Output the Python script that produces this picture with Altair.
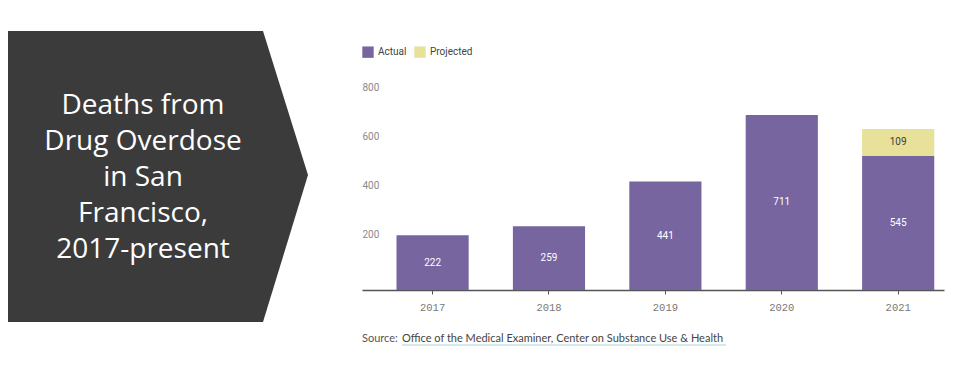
import altair as alt
import pandas as pd

# ---- data ----
years = ["2017", "2018", "2019", "2020", "2021"]
actual = [222, 259, 441, 711, 545]
projected_years = ["2021"]
projected = [109]
series = ["Actual", "Projected"]
series_colors = ["#7765a0", "#e8e199"]
y_ticks = [200, 400, 600, 800]
title_lines = ["Deaths from", "Drug Overdose", "in San", "Francisco,", "2017-present"]
source_label = "Source:"
source_link = "Office of the Medical Examiner, Center on Substance Use & Health"

# decorative arrow shape (relative units)
arrow_x = [0.0, 0.85, 1.0]
arrow_top = [0.0, 0.0, 0.495]
arrow_bottom = [1.0, 1.0, 0.495]

rows = [{"year": y, "type": "Actual", "value": v, "ord": 0} for y, v in zip(years, actual)]
rows += [{"year": y, "type": "Projected", "value": v, "ord": 1} for y, v in zip(projected_years, projected)]
df = pd.DataFrame(rows)

W, H = 582, 197

xscale = alt.Scale(domain=years, paddingInner=0.38, paddingOuter=0.19, align=0.78)
yscale = alt.Scale(domain=[0, 800], nice=False)

x_axis = alt.Axis(title=None, labelAngle=0, grid=False, domainColor="#555555", domainWidth=1.5,
                  tickColor="#555555", tickSize=4, tickWidth=1, labelFont="Liberation Mono",
                  labelFontSize=10.5, labelColor="#777777", labelPadding=8)
y_axis = alt.Axis(title=None, values=y_ticks, domain=False, ticks=False, tickSize=0,
                  labelAlign="left", labelBaseline="alphabetic", labelPadding=0, labelOffset=-3,
                  labelFont="Roboto", labelFontSize=10, labelColor="#8a8a8a",
                  gridColor="#ececec", gridWidth=1)

base = alt.Chart(df).transform_stack(
    stack="value", groupby=["year"], sort=[alt.SortField("ord", order="ascending")], as_=["v0", "v1"]
).transform_calculate(mid="(datum.v0 + datum.v1) / 2")

bars = base.mark_bar().encode(
    x=alt.X("year:N", scale=xscale, axis=x_axis),
    y=alt.Y("v0:Q", scale=yscale, axis=y_axis),
    y2="v1:Q",
    color=alt.Color("type:N", scale=alt.Scale(domain=series, range=series_colors),
                    legend=alt.Legend(title=None, orient="none", legendX=0, legendY=-47,
                                      direction="horizontal", symbolType="square", symbolSize=130,
                                      symbolStrokeWidth=0, labelFont="Roboto", labelFontSize=10,
                                      labelColor="#444444", labelOffset=4, columnPadding=7,
                                      padding=0)),
)

labels = base.mark_text(font="Roboto", fontSize=10, baseline="middle").encode(
    x=alt.X("year:N", scale=xscale, axis=x_axis),
    y=alt.Y("mid:Q", scale=yscale, axis=y_axis),
    text="value:Q",
    color=alt.condition("datum.type == 'Actual'", alt.value("white"), alt.value("#3d3d3d")),
)

bar_layer = alt.layer(bars, labels)

arrow_df = pd.DataFrame({"ax": arrow_x, "top": arrow_top, "bot": arrow_bottom})
arrow = alt.Chart(arrow_df).mark_area(color="#3b3b3b", opacity=1).encode(
    x=alt.X("ax:Q", scale=alt.Scale(domain=[0, 1], range=[-354, -54]), axis=None),
    y=alt.Y("top:Q", scale=alt.Scale(domain=[0, 1], range=[-62, 229]), axis=None),
    y2="bot:Q",
)

title_df = pd.DataFrame({"t": ["\n".join(title_lines)]})
title_text = alt.Chart(title_df).mark_text(
    font="Open Sans", fontSize=28, color="white", lineHeight=36, align="center",
    baseline="middle", lineBreak="\n"
).encode(x=alt.value(-219), y=alt.value(13), text="t:N")

src_df = pd.DataFrame({"label": [source_label], "link": [source_link]})
src_label = alt.Chart(src_df).mark_text(
    font="Lato", fontSize=11, color="#555555", align="left", baseline="middle"
).encode(x=alt.value(0), y=alt.value(246), text="label:N")
src_link = alt.Chart(src_df).mark_text(
    font="Lato", fontSize=11, color="#444444", align="left", baseline="middle"
).encode(x=alt.value(40), y=alt.value(246), text="link:N")
underline = alt.Chart(src_df).mark_rule(color="#a6d8d6", strokeWidth=1).encode(
    x=alt.value(40), x2=alt.value(364), y=alt.value(252)
)

chart = alt.layer(arrow, title_text, bar_layer, underline, src_label, src_link).resolve_scale(
    x="independent", y="independent"
).properties(
    width=W, height=H,
    padding={"left": 354, "top": 85, "right": 8, "bottom": 80},
    autosize=alt.AutoSizeParams(type="none"),
    background="white",
).configure_view(stroke=None)

chart.save("out.html", embed_options={"renderer": "svg", "actions": False})
